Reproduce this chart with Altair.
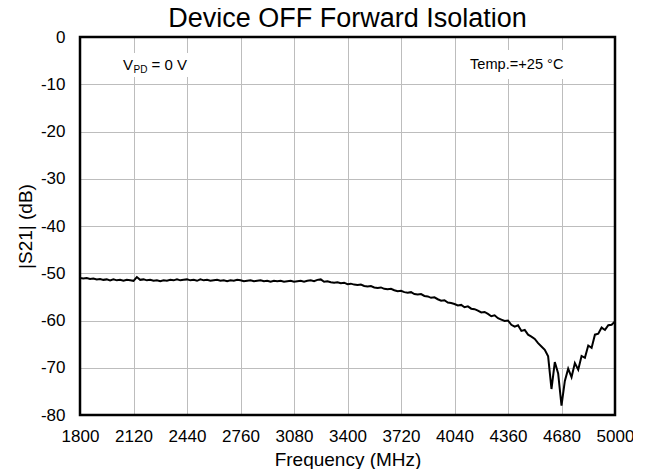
import altair as alt
import pandas as pd

freq_mhz = list(range(1800, 5001, 20))
s21_db = [
    -51.0, -51.1, -51.0, -51.2, -51.1, -51.3, -51.2, -51.4, -51.3, -51.5,
    -51.3, -51.5, -51.4, -51.6, -51.4, -51.5, -51.6, -50.8, -51.4, -51.3,
    -51.5, -51.4, -51.6, -51.5, -51.7, -51.5, -51.6, -51.4, -51.5, -51.3,
    -51.5, -51.4, -51.3, -51.5, -51.4, -51.6, -51.3, -51.5, -51.4, -51.6,
    -51.5, -51.4, -51.6, -51.5, -51.7, -51.5, -51.6, -51.4, -51.5, -51.7,
    -51.6, -51.5, -51.7, -51.6, -51.5, -51.7, -51.6, -51.8, -51.6, -51.7,
    -51.6, -51.8, -51.7, -51.6, -51.8, -51.7, -51.6, -51.8, -51.6, -51.5,
    -51.7, -51.4, -51.3, -51.8, -51.7, -51.9, -52.0, -51.9, -52.1, -52.0,
    -52.3, -52.2, -52.4, -52.5, -52.4, -52.7, -52.8, -52.7, -53.0, -53.1,
    -53.0, -53.3, -53.4, -53.3, -53.6, -53.8, -53.7, -54.0, -54.1, -54.0,
    -54.4, -54.5, -54.4, -54.8, -54.9, -55.2, -55.1, -55.5, -55.8, -55.7,
    -56.2, -56.3, -56.5, -56.8, -56.7, -57.2, -57.0, -57.5, -57.6, -57.9,
    -58.3, -58.2, -58.6, -59.1, -58.9, -59.5, -59.8, -60.1, -60.0, -60.9,
    -61.3, -61.0, -62.2, -62.0, -63.0, -63.4, -63.9, -64.8, -65.5, -66.2,
    -67.6, -74.5, -68.8, -71.2, -78.0, -72.8, -70.2, -72.0, -69.0, -70.4,
    -67.5, -67.9, -65.3, -65.8, -63.0, -62.8, -61.5, -62.0, -61.0, -60.9,
    -60.2,
]

x_ticks = [1800, 2120, 2440, 2760, 3080, 3400, 3720, 4040, 4360, 4680, 5000]
y_ticks = [-80, -70, -60, -50, -40, -30, -20, -10, 0]

title_text = "Device OFF Forward Isolation"
x_title = "Frequency (MHz)"
y_title = "|S21| (dB)"
temp_label = "Temp.=+25 °C"

W, H = 535, 378
FONT = "Liberation Sans"

df = pd.DataFrame({"freq": freq_mhz, "s21": s21_db})
one = pd.DataFrame({"k": [0]})

xs = alt.Scale(domain=[1800, 5000], nice=False, zero=False)
ys = alt.Scale(domain=[-80, 0], nice=False, zero=False)

line = alt.Chart(df).mark_line(color="black", strokeWidth=2, clip=True).encode(
    x=alt.X("freq:Q", scale=xs, title=x_title,
            axis=alt.Axis(values=x_ticks, labelExpr="'' + datum.value",
                          labelOverlap=False, labelFlush=False, grid=True)),
    y=alt.Y("s21:Q", scale=ys, title=y_title,
            axis=alt.Axis(values=y_ticks, labelExpr="'' + datum.value",
                          labelOverlap=False, labelFlush=False, grid=True)),
)

ann = alt.Chart(one)

# white backgrounds behind annotations (they interrupt the grid)
bg1 = ann.mark_rect(fill="white").encode(
    x=alt.value(36), x2=alt.value(112), y=alt.value(16), y2=alt.value(40)
)
bg2 = ann.mark_rect(fill="white").encode(
    x=alt.value(381), x2=alt.value(494), y=alt.value(13), y2=alt.value(42)
)

border = ann.mark_rect(fill=None, stroke="black", strokeWidth=2.5).encode(
    x=alt.value(0), x2=alt.value(W), y=alt.value(0), y2=alt.value(H)
)

txt_v = ann.mark_text(align="left", baseline="alphabetic", font=FONT,
                      fontSize=15, color="black", text="V").encode(
    x=alt.value(43), y=alt.value(33))
txt_pd = ann.mark_text(align="left", baseline="alphabetic", font=FONT,
                       fontSize=10, color="black", text="PD").encode(
    x=alt.value(53.5), y=alt.value(35.5))
txt_eq = ann.mark_text(align="left", baseline="alphabetic", font=FONT,
                       fontSize=15, color="black", text="= 0 V").encode(
    x=alt.value(71.5), y=alt.value(33))
txt_t = ann.mark_text(align="left", baseline="alphabetic", font=FONT,
                      fontSize=14.6, color="black", text=temp_label).encode(
    x=alt.value(390), y=alt.value(31.5))

chart = alt.layer(bg1, bg2, line, border, txt_v, txt_pd, txt_eq, txt_t).properties(
    width=W, height=H,
    background="white",
    title=alt.TitleParams(title_text, font=FONT, fontSize=27, fontWeight="normal",
                          color="black", anchor="middle", offset=-5),
    autosize=alt.AutoSizeParams(type="none"),
    padding={"left": 72, "top": 29, "right": 18, "bottom": 54},
).configure_view(stroke=None).configure_axis(
    labelFont=FONT, labelFontSize=17, labelColor="black",
    titleFont=FONT, titleFontSize=19, titleFontWeight="normal", titleColor="black",
    ticks=False, domain=False, gridColor="#bdbdbd", gridWidth=1,
).configure_axisX(labelPadding=13, titlePadding=6).configure_axisY(
    labelPadding=15, titlePadding=5
)

chart.save("out.html", embed_options={"renderer": "svg", "actions": False})
